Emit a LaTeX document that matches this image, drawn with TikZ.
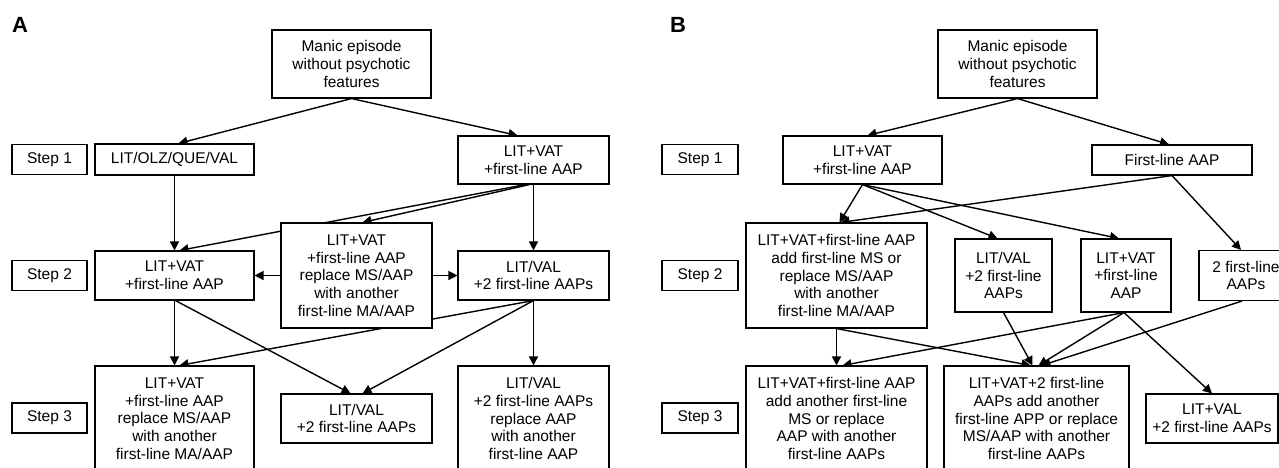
\documentclass[tikz,border=0pt]{standalone}
\usepackage{fontspec}
\setmainfont{Liberation Sans}
\usetikzlibrary{arrows.meta,backgrounds}

\begin{document}
\begin{tikzpicture}
  [x=1pt,y=-1pt,line width=1.1pt,>={Triangle[length=9pt,width=9pt]},
   box/.style 2 args={draw,fill=white,align=center,inner sep=0pt,
     minimum width=#1pt,minimum height=#2pt,font=\fontsize{15.5}{17.7}\selectfont},
   panel/.style={font=\fontsize{22}{22}\selectfont\bfseries},
   link/.style={->,line width=1.4pt}]
  \useasboundingbox (0,0) rectangle (1279,467);
  % panel A
  \node[panel] (pa) at (20,25) {A};
  \node[box={159}{68}] (am) at (351.5,64) {Manic episode\\without psychotic\\features};
  \node[box={75}{30}] (s1a) at (49.5,159.5) {Step 1};
  \node[box={75}{30}] (s2a) at (49.5,275.5) {Step 2};
  \node[box={75}{30}] (s3a) at (49.5,418) {Step 3};
  \node[box={159}{31}] (a1) at (174.5,159.5) {LIT/OLZ/QUE/VAL};
  \node[box={151}{48}] (a2) at (533.5,160) {LIT+VAT\\+first-line AAP};
  \node[box={159}{49}] (a3) at (174.5,275.5) {LIT+VAT\\+first-line AAP};
  \node[box={151}{105}] (a4) at (356.5,275.5) {LIT+VAT\\+first-line AAP\\replace MS/AAP\\with another\\first-line MA/AAP};
  \node[box={151}{49}] (a5) at (533.5,275.5) {LIT/VAL\\+2 first-line AAPs};
  \node[box={159}{105}] (a6) at (174.5,418.5) {LIT+VAT\\+first-line AAP\\replace MS/AAP\\with another\\first-line MA/AAP};
  \node[box={151}{49}] (a7) at (356.5,418.5) {LIT/VAL\\+2 first-line AAPs};
  \node[box={151}{105}] (a8) at (533.5,418.5) {LIT/VAL\\+2 first-line AAPs\\replace AAP\\with another\\first-line AAP};
  % panel B
  \node[panel] (pb) at (678,25) {B};
  \node[box={159}{68}] (bm) at (1017.5,64) {Manic episode\\without psychotic\\features};
  \node[box={76}{30}] (s1b) at (700,159.5) {Step 1};
  \node[box={76}{30}] (s2b) at (700,275.5) {Step 2};
  \node[box={76}{30}] (s3b) at (700,418) {Step 3};
  \node[box={159}{48}] (b1) at (862.5,160) {LIT+VAT\\+first-line AAP};
  \node[box={160}{30}] (b2) at (1172,160) {First-line AAP};
  \node[box={181}{105}] (b3) at (836.5,275.5) {LIT+VAT+first-line AAP\\add first-line MS or\\replace MS/AAP\\with another\\first-line MA/AAP};
  \node[box={97}{73}] (b4) at (1003.5,275.5) {LIT/VAL\\+2 first-line\\AAPs};
  \node[box={90}{73}] (b5) at (1126,275.5) {LIT+VAT\\+first-line\\AAP};
  \node[box={94}{50}] (b6) at (1246,275.5) {2 first-line\\AAPs};
  \node[box={181}{105}] (b7) at (836.5,418.5) {LIT+VAT+first-line AAP\\add another first-line\\MS or replace\\AAP with another\\first-line AAPs};
  \node[box={185}{105}] (b8) at (1036.5,418.5) {LIT+VAT+2 first-line\\AAPs add another\\first-line APP or replace\\MS/AAP with another\\first-line AAPs};
  \node[box={132}{49}] (b9) at (1212,418.5) {LIT+VAL\\+2 first-line AAPs};
  \begin{scope}[on background layer]
    \foreach \from/\fs/\to/\ts in {am/0/a1/4,am/0/a2/-16,a1/0/a3/0,a2/-8/a3/5,a2/-4/a4/6,
        a2/0/a5/0,a3/0/a6/0,a3/1/a7/-6,a5/0/a6/5,a5/0/a7/6,a5/0/a8/0}
      \draw[link] ([xshift=\fs]\from.south) -- ([xshift=\ts]\to.north);
    \draw[link] (a4) -- (a3);
    \draw[link] (a4) -- (a5);
    \foreach \from/\fs/\to/\ts in {bm/0/b1/5,bm/0/b2/-3,b1/0/b3/3,b2/0/b3/4,b1/0/b4/-6,
        b1/0/b5/-7,b2/0/b6/-5,b3/0/b7/0,b3/0/b8/-6,b4/0/b8/-4,b5/-2/b7/6,b5/-2/b8/2,
        b5/-2/b9/0,b6/-4/b8/5}
      \draw[link] ([xshift=\fs]\from.south) -- ([xshift=\ts]\to.north);
  \end{scope}
\end{tikzpicture}
\end{document}
